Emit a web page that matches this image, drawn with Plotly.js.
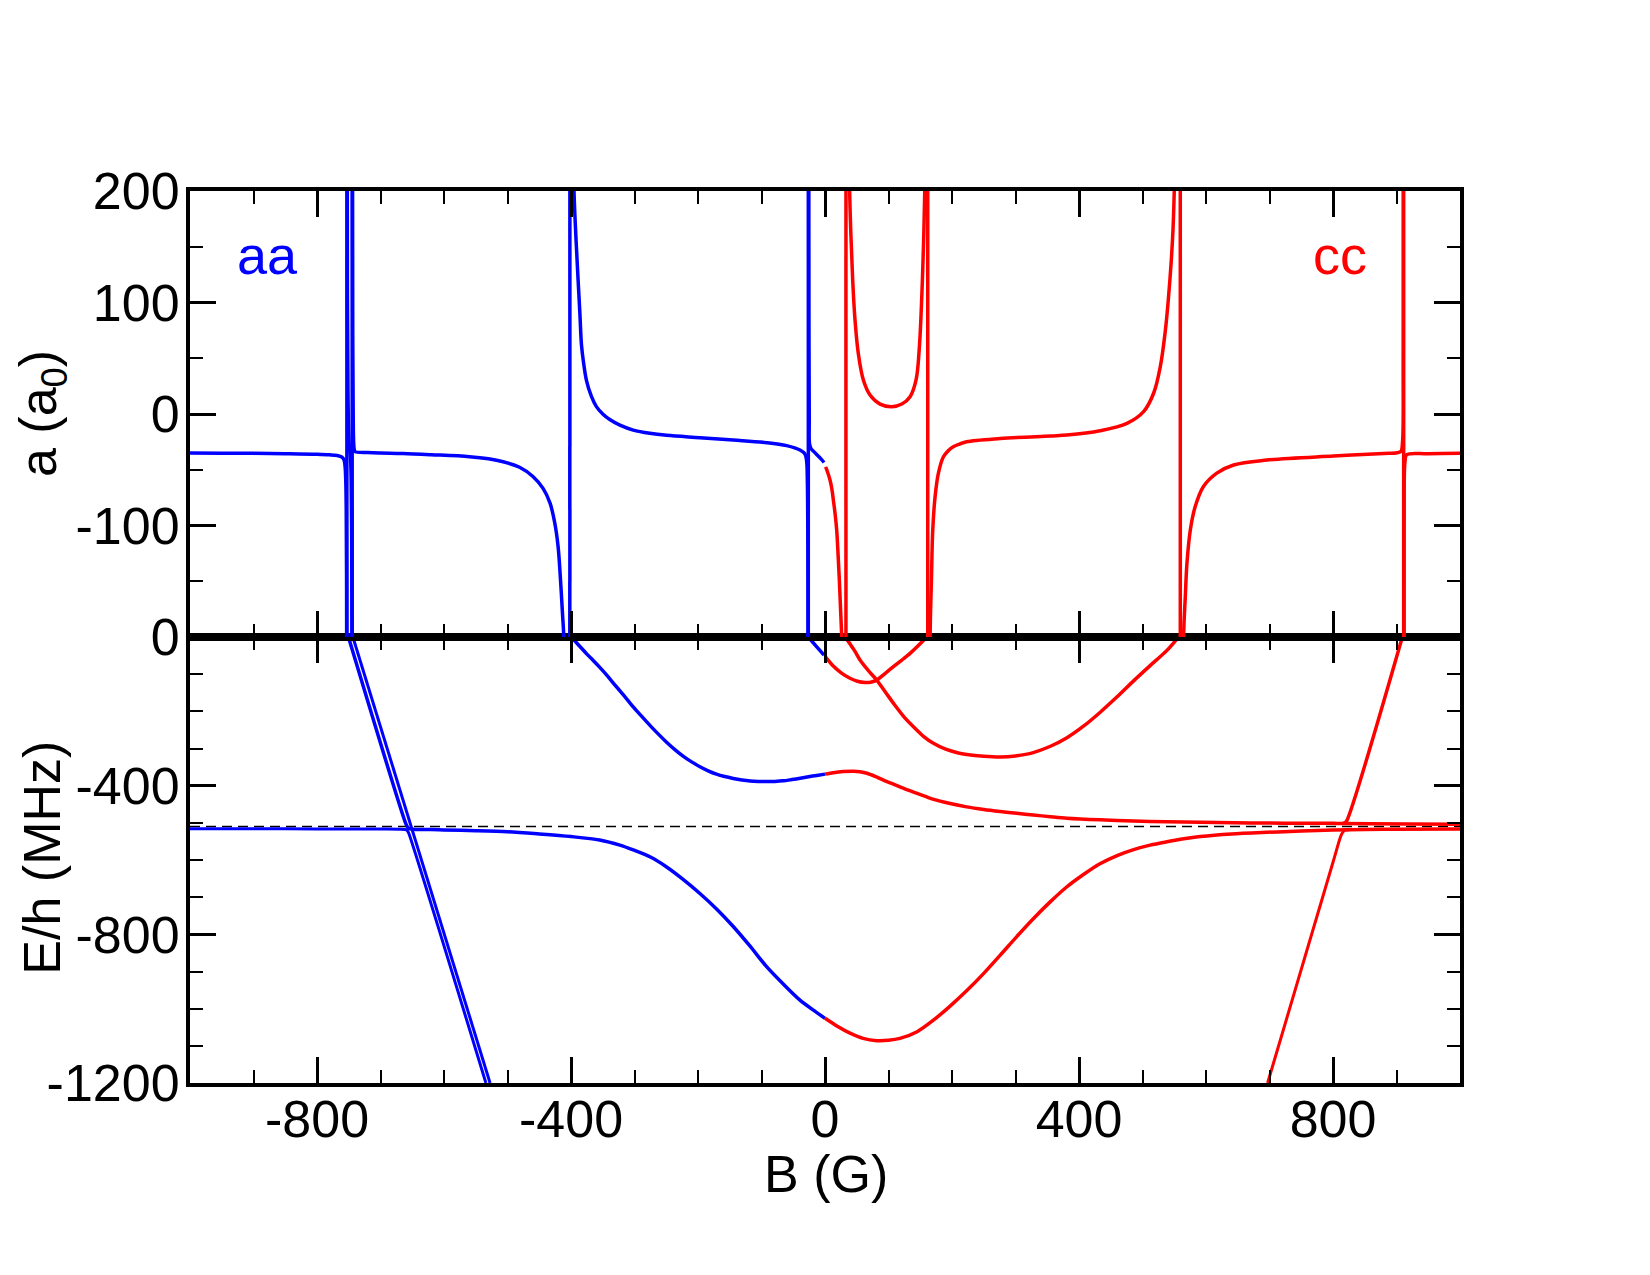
<!DOCTYPE html>
<html>
<head>
<meta charset="utf-8">
<script src="https://cdn.plot.ly/plotly-3.0.1.min.js"></script>
<style>
  html, body { margin: 0; padding: 0; background: #ffffff; }
  #chart { width: 1650px; height: 1275px; }
</style>
</head>
<body>
<div id="chart"></div>
<script>
// ---------- scattering length a (a0) vs magnetic field B (G) ----------
// aa channel (B < 0); +-5000 marks the jump through a pole
const aaScatB = [-1000, -950, -900, -850, -800, -780, -768, -761, -757.5, -755.8, -754.7, -754.0, -753.5, -753.2, -753.0,
  -752.8, -752.5, -752.0, -751.2, -750.2, -749.0, -748.0, -747.0, -746.2, -745.5, -745.0, -744.7,
  -744.4, -744.1, -743.6, -743.0, -742.3, -741.3, -740, -720, -700, -665, -620, -560, -530, -507, -481, -460, -444,
  -433, -425.5, -420.3, -416.5, -413.4, -411.3, -408, -405, -403, -402,
  -401.6, -400.5, -399, -397.5, -396, -394, -391.5, -388.8, -386, -383.5, -380, -375.6, -368, -360, -350, -339,
  -323, -302, -276, -249.5, -197, -144.5, -92, -60.4, -39.4, -31.5, -29, -27.8, -27.0, -26.6, -26.4,
  -26.2, -25.6, -25.2, -24.8, -24.3, -22, -18, -12, -6, -1.5];
const aaScatA = [-35.0, -35.1, -35.3, -35.6, -36.1, -36.6, -37.3, -38.5, -41, -47, -60, -85, -140, -260, -5000,
  5000, 300, 100, 20, -15, -30, -35, -42, -60, -100, -200, -5000,
  5000, 250, 60, 0, -25, -32, -33.8, -34.6, -35.0, -35.4, -36.5, -38.3, -40.2, -42.8, -47.8, -56, -66.7,
  -80, -98, -119, -149, -179, -200, -290, -520, -1300, -5000,
  5000, 1000, 500, 300, 215, 180, 150, 120, 90, 62, 45, 30, 16, 6.6, 0, -5,
  -10, -14.4, -17.3, -19.1, -21.2, -23.3, -25.7, -28.4, -32.3, -35.9, -42, -60, -120, -300, -5000,
  5000, 250, 60, -5, -27, -31, -33.5, -37, -40.5, -43.5];

// cc channel (B > 0)
const ccScatB = [1, 4, 7.9, 11, 13.1, 16, 18.4, 20.5, 22.6, 24.5, 26.3, 28.5, 30.5, 32, 32.8,
  33.2, 35, 37, 38.3, 40.5, 43.6, 47.3, 52.5, 60.4, 70.9, 86.7, 105, 121, 134, 143.4, 148.6, 152.4, 155, 157.1, 159, 160.5, 161.6,
  162, 163.5, 165.5, 167.6, 169.7, 173.4, 178.6, 186.5, 194, 202, 212, 223, 276, 355, 381, 433, 475.5, 501.7, 517.5, 528, 536, 541, 545, 548, 550, 553, 556, 559.3,
  559.7, 562.5, 564.7, 567.4, 570, 575.3, 583, 596, 617, 643.5, 696, 801, 880, 901, 907, 909.5, 910.6, 911.1,
  911.5, 912, 913.5, 916, 950, 1000];
const ccScatA = [-47.5, -52, -59.2, -68, -77, -90, -104, -125, -149, -175, -200, -260, -400, -1000, -5000,
  5000, 1000, 320, 215, 165, 120, 84, 54, 30.4, 17, 8.9, 6.5, 8.9, 15.5, 30.5, 60, 105, 150, 200, 300, 800, 5000,
  -5000, -800, -200, -149, -104, -74, -53, -38.3, -33, -29.3, -27, -24.9, -22, -19.7, -18.9, -15, -8.4, 2.1, 18.6, 42.4, 75, 105, 135, 165, 200, 300, 700, 5000,
  -5000, -700, -200, -164, -134, -104, -83, -65, -53, -45.7, -41.3, -37.7, -35.5, -34.7, -33.5, -25, 60, 5000,
  -5000, -100, -42, -36.5, -35.7, -35.3];

// ---------- bound-state energies E/h (MHz) vs B (G) ----------
// aa channel
const aaLevel1B = [-750.5, -660, -657.5, -655, -650, -620, -600, -550, -500, -450, -400, -355, -323, -302, -275, -250,
  -225, -197, -170, -144.5, -118, -92, -65, -39.4, -15, 0];
const aaLevel1E = [0, -503, -511, -515.5, -517.2, -518.2, -519, -521, -524, -530, -537, -546, -560, -573, -592, -618,
  -650, -690, -733, -779, -832, -887, -935, -977, -1008, -1026];

const aaLevel2B = [-1000, -900, -800, -700, -668, -662, -659, -657, -655.5, -534];
const aaLevel2E = [-516, -516, -516.3, -516.8, -517.3, -518, -519, -523, -528, -1200];

const aaLevel3B = [-743.5, -527.5];
const aaLevel3E = [0, -1200];

const aaLevel4B = [-400.8, -395, -390, -383, -375, -365, -355, -342, -330, -315, -302, -290, -275, -262, -249.5, -236,
  -223, -210, -197, -184, -171, -158, -144.5, -131, -118, -105, -92, -79, -66, -52, -39, -26, -13, 0];
const aaLevel4E = [0, -9, -18, -31, -46, -63, -81, -106, -131, -161, -188, -211, -239, -262, -283, -303.5,
  -321, -336, -349, -360, -369, -375.5, -380.5, -384.5, -387.3, -388.7, -389, -388.5, -387, -383.5, -380, -376, -372.5, -369];

const aaLevel5B = [-26.3, -14, -1.5];
const aaLevel5E = [0, -24.5, -49];

// cc channel
const ccLevel1B = [0, 13, 29, 45, 55, 66, 79, 92, 105, 118, 131, 145, 158, 171, 197, 223, 250, 276, 302, 328, 355, 381,
  433, 486, 538, 591, 644, 696, 750, 801, 815, 818.5, 821.5, 909.2];
const ccLevel1E = [-369, -365, -362, -361, -362.5, -366.5, -375, -385, -394, -403, -412, -421, -429, -437, -448, -457,
  -464, -469.5, -474.5, -479, -483.5, -487.5, -492, -495, -497, -498.6, -499.7, -500.5, -501, -501.3, -501.5, -500, -495, 0];

const ccLevel2B = [815, 860, 920, 1000];
const ccLevel2E = [-501.5, -502.3, -503, -503.5];

const ccLevel3B = [0, 20, 39.4, 60, 81.5, 100, 118, 145, 170.7, 197, 223, 250, 276, 302, 328, 355, 381, 407, 433, 460,
  486, 512, 538.5, 565, 591, 640, 696, 750, 800, 850, 900, 1000];
const ccLevel3E = [-1026, -1048, -1066, -1080, -1086, -1085, -1080, -1062, -1031, -993, -952, -905, -856, -806, -758,
  -712, -672, -639, -610, -588, -572, -560, -551, -543, -537, -530, -525.5, -522, -519.5, -518, -517, -516.3];

const ccLevel4B = [697, 800, 812, 815.5, 819, 826];
const ccLevel4E = [-1200, -606, -537, -525, -519.5, -518.5];

const ccLevel5B = [31.5, 40, 47, 55.2, 68, 81.5, 95, 107.7, 125, 144.5, 157, 170.7, 190, 210, 223, 250, 276, 300, 328,
  355, 381, 407, 433, 460, 486, 512, 538.5, 554.3, 556.8];
const ccLevel5E = [0, -20, -38, -62, -90, -116, -148, -178, -216, -250, -270, -286, -302, -312, -316, -321, -323, -320,
  -311, -294, -271, -240, -203, -161, -118, -77, -36, -5, 0];

const ccLevel6B = [1, 13, 26, 39.4, 51, 63, 72, 81.5, 94, 107.7, 121, 134, 147, 160.2];
const ccLevel6E = [-54, -78, -97, -111, -119, -122.5, -121.5, -116, -99, -80, -62, -44, -23, 0];

// threshold
const thresholdB = [-1000, 1000];
const thresholdE = [-510, -510];

// axis ticks
const bTicks = [-800, -400, 0, 400, 800];
const bTickText = ['-800', '-400', '0', '400', '800'];
const aTicks = [-100, 0, 100, 200];
const aTickText = ['-100', '0', '100', '200'];
const eTicks = [-1200, -800, -400, 0];
const eTickText = ['-1200', '-800', '-400', '0'];

// channel labels
const channelNames = ['aa', 'cc'];
const channelColors = ['#0000ff', '#ff0000'];

// ---------- traces ----------
const FONT = 'Liberation Sans, Arial, Helvetica, sans-serif';
const LW = 3.5;
const BLUE = channelColors[0], RED = channelColors[1];

function curve(x, y, color, xa, ya, opts) {
  opts = opts || {};
  return {
    x: x, y: y, xaxis: xa, yaxis: ya, type: 'scatter', mode: 'lines',
    line: Object.assign({ color: color, width: LW, simplify: false }, opts),
    hoverinfo: 'skip', showlegend: false
  };
}

// split a scattering-length series into smooth branches and the straight jumps through each pole
function poleBranches(xs, ys, color) {
  const out = [];
  let cx = [], cy = [];
  for (let i = 0; i < xs.length; i++) {
    cx.push(xs[i]); cy.push(ys[i]);
    const jump = i < xs.length - 1 && Math.abs(ys[i]) >= 5000 && Math.abs(ys[i + 1]) >= 5000 && ys[i] * ys[i + 1] < 0;
    if (jump) {
      out.push(curve(cx, cy, color, 'x2', 'y', { shape: 'spline', smoothing: 1 }));
      out.push(curve([xs[i], xs[i + 1]], [ys[i], ys[i + 1]], color, 'x2', 'y'));
      cx = []; cy = [];
    }
  }
  out.push(curve(cx, cy, color, 'x2', 'y', { shape: 'spline', smoothing: 1 }));
  return out;
}

const smooth = { shape: 'spline', smoothing: 0.8 };
const traces = [
  curve(thresholdB, thresholdE, '#000000', 'x', 'y2', { color: '#000000', width: 1.6, dash: '10px,6px' })
].concat(
  poleBranches(aaScatB, aaScatA, BLUE),
  poleBranches(ccScatB, ccScatA, RED),
  [
    curve(aaLevel1B, aaLevel1E, BLUE, 'x', 'y2', smooth),
    curve(aaLevel2B, aaLevel2E, BLUE, 'x', 'y2', Object.assign({}, smooth, { width: 3 })),
    curve(aaLevel3B, aaLevel3E, BLUE, 'x', 'y2', { width: 3 }),
    curve(aaLevel4B, aaLevel4E, BLUE, 'x', 'y2', smooth),
    curve(aaLevel5B, aaLevel5E, BLUE, 'x', 'y2'),
    curve(ccLevel1B, ccLevel1E, RED, 'x', 'y2', smooth),
    curve(ccLevel2B, ccLevel2E, RED, 'x', 'y2'),
    curve(ccLevel3B, ccLevel3E, RED, 'x', 'y2', smooth),
    curve(ccLevel4B, ccLevel4E, RED, 'x', 'y2', Object.assign({}, smooth, { width: 3 })),
    curve(ccLevel5B, ccLevel5E, RED, 'x', 'y2', smooth),
    curve(ccLevel6B, ccLevel6E, RED, 'x', 'y2', smooth)
  ]
);

// ---------- axes ----------
const tickFont = { family: FONT, size: 52, color: '#000000' };
function frameAxis(extra) {
  return Object.assign({
    showline: true, linewidth: 4, linecolor: '#000000', mirror: 'ticks',
    ticks: 'inside', ticklen: 26, tickwidth: 3, tickcolor: '#000000',
    showgrid: false, zeroline: false, tickfont: tickFont, fixedrange: true
  }, extra);
}
function minorTicks(tick0, dtick) {
  return { tickmode: 'linear', tick0: tick0, dtick: dtick, ticks: 'inside', ticklen: 13, tickwidth: 2, tickcolor: '#000000' };
}

const layout = {
  width: 1650, height: 1275,
  margin: { l: 190, r: 190, t: 191, b: 192 },
  paper_bgcolor: '#ffffff', plot_bgcolor: '#ffffff',
  showlegend: false, hovermode: false,
  xaxis: frameAxis({
    anchor: 'y2', domain: [0, 1], range: [-1000, 1000],
    tickmode: 'array', tickvals: bTicks, ticktext: bTickText, ticklabelstandoff: -12,
    minor: minorTicks(0, 100)
  }),
  xaxis2: frameAxis({
    anchor: 'y', domain: [0, 1], range: [-1000, 1000], matches: 'x', showticklabels: false,
    tickmode: 'array', tickvals: bTicks, ticktext: bTickText,
    minor: minorTicks(0, 100)
  }),
  yaxis: frameAxis({
    anchor: 'x2', domain: [0.5, 1], range: [-200, 200],
    tickmode: 'array', tickvals: aTicks, ticktext: aTickText, ticklabelstandoff: -4,
    minor: minorTicks(-150, 100)
  }),
  yaxis2: frameAxis({
    anchor: 'x', domain: [0, 0.5], range: [-1200, 0],
    tickmode: 'array', tickvals: eTicks, ticktext: eTickText, ticklabelstandoff: -4,
    minor: minorTicks(-1100, 100)
  }),
  annotations: [
    { xref: 'x2', yref: 'y', x: -929, y: 143, text: channelNames[0], showarrow: false,
      xanchor: 'left', yanchor: 'middle', font: { family: FONT, size: 54, color: BLUE } },
    { xref: 'x2', yref: 'y', x: 766, y: 143, text: channelNames[1], showarrow: false,
      xanchor: 'left', yanchor: 'middle', font: { family: FONT, size: 54, color: RED } },
    { xref: 'paper', yref: 'paper', x: -0.1165, y: 0.75, text: 'a (a<sub>0</sub>)', showarrow: false,
      textangle: -90, xanchor: 'center', yanchor: 'middle', font: { family: FONT, size: 52, color: '#000000' } },
    { xref: 'paper', yref: 'paper', x: -0.1165, y: 0.2527, text: 'E/h (MHz)', showarrow: false,
      textangle: -90, xanchor: 'center', yanchor: 'middle', font: { family: FONT, size: 52, color: '#000000' } },
    { xref: 'paper', yref: 'paper', x: 0.5008, y: -0.102, text: 'B (G)', showarrow: false,
      xanchor: 'center', yanchor: 'middle', font: { family: FONT, size: 52, color: '#000000' } }
  ]
};

Plotly.newPlot('chart', traces, layout, { staticPlot: true, displayModeBar: false });
</script>
</body>
</html>
